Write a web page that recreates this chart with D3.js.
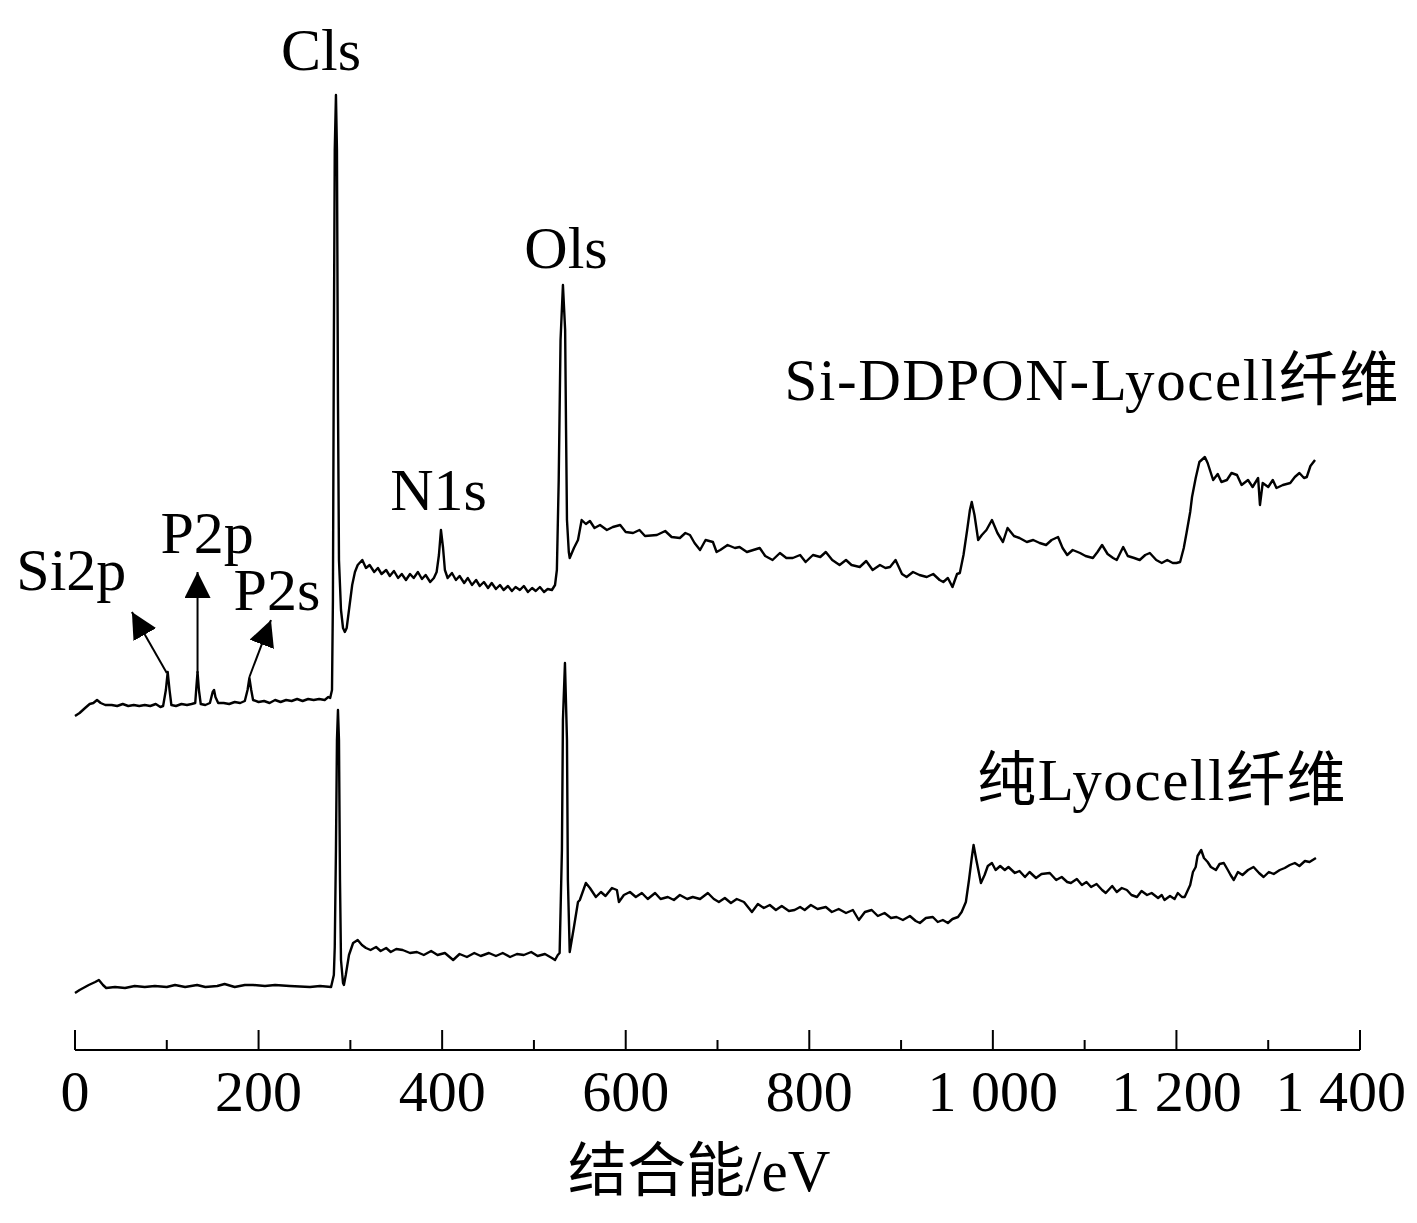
<!DOCTYPE html>
<html><head><meta charset="utf-8">
<script src="https://cdn.jsdelivr.net/npm/d3@7"></script>
<style>
html,body{margin:0;padding:0;background:#fff;}
svg text{font-family:"Liberation Serif","Times New Roman","Noto Sans CJK SC",serif;fill:#000;}
</style></head>
<body><div id="chart"></div>
<script>
// Binding energy (eV), intensity (a.u., offset-stacked)
const siDDPON = [[0,334],[5,337],[11,342],[16,346],[20,347],[24,350],[28,347],[33,345],[40,345],[46,344],[52,346],[58,344],[64,345],[70,344],[76,345],[82,344],[88,346],[93,343],[96,344],[99,360],[101,378],[103,360],[105,345],[110,344],[116,346],[122,345],[127,346],[131,347],[132,360],[133.5,378],[135,360],[137,346],[142,345],[147,347],[150,358],[151.5,360],[153,353],[156,347],[162,347],[168,346],[174,348],[180,347],[185,349],[188,360],[190,372],[192,360],[194,350],[200,348],[206,349],[212,347],[218,350],[224,348],[230,350],[236,349],[242,351],[248,349],[254,351],[260,350],[266,351],[272,350],[276,353],[278,352],[280,360],[281,450],[282,700],[283,900],[284.3,955],[285.4,900],[286.5,650],[287.6,490],[289.8,440],[292,422],[294,418],[296,422],[298.5,440],[302,465],[305,478],[308,485],[313,490],[317,482],[321,485],[326,478],[330,482],[334,476],[339,480],[343,474],[347.5,479],[352,472],[356,476],[360.6,470],[365,476],[369,472],[373.6,478],[378,471],[382,475],[387,468],[391,472],[394,478],[396.5,495],[398.7,520],[401,502],[403,480],[406,472],[410.7,477],[415,470],[419,474],[424,467],[428,472],[432.5,465],[437,470],[441,464],[445.5,468],[450,462],[454,467],[458.6,461],[463,465],[467,460],[471.7,464],[476,459],[480,463],[484.7,460],[489,464],[493.5,458],[498,462],[502,459],[506.5,463],[511,458],[515,461],[519.6,460],[523,465],[525,480],[527,570],[529,710],[531.6,765],[534,720],[535,620],[536,530],[538,498],[539,492],[543.6,502],[548,510],[552,530],[556.6,526],[561,529],[566,522],[572,525],[579.5,520],[586,523],[594,525],[600,518],[608,517],[615,520],[621,514],[634,515],[643,519],[650,513],[659,512],[665,517],[670,515],[675,507],[681,500],[687,510],[695,508],[699,498],[703,500],[711,505],[719,502],[724,503],[732,498],[739,500],[746,502],[752,494],[760,490],[768,497],[775,492],[782,492],[790,495],[796,488],[804,495],[812,493],[818,498],[825,490],[833,485],[840,490],[846,485],[855,483],[862,489],[869,480],[877,485],[883,482],[888,483],[894,490],[901,476],[906,473],[913,478],[920,475],[928,473],[935,476],[942,470],[946,468],[951,472],[956,463],[961,476],[964,477],[968,495],[972,520],[975,540],[977,548],[980,535],[984,510],[988,515],[993,520],[999,530],[1005,517],[1011,508],[1016,522],[1023,514],[1029,512],[1037,508],[1044,510],[1051,507],[1058,505],[1064,510],[1071,513],[1076,502],[1081,495],[1087,500],[1095,497],[1101,494],[1109,492],[1114,498],[1119,505],[1125,496],[1131,492],[1135,490],[1142,503],[1147,494],[1154,492],[1160,490],[1166,495],[1171,497],[1178,490],[1184,487],[1190,490],[1196,487],[1200,487],[1204,488],[1208,502],[1211,517],[1215,538],[1217,553],[1221,572],[1225,588],[1231,593],[1234,587],[1240,570],[1245,576],[1249,568],[1255,570],[1260,577],[1266,575],[1271,565],[1278,570],[1283,563],[1289,572],[1291,545],[1294,567],[1300,563],[1305,570],[1309,562],[1316,565],[1324,567],[1329,573],[1334,577],[1339,572],[1342,573],[1346,584],[1351,590]];

const pureLyocell = [[0,57],[5,60],[15,65],[22,68],[26,70],[30.5,65],[34,62],[43.6,63],[54.5,62],[65,64],[76,63],[87,64],[100,63],[109,65],[120,63],[133,65],[142,63],[155,64],[163,66],[174,63],[185,65],[194,65],[207,64],[218,65],[234,64],[256,63],[267,64],[279,63],[282,75],[283,103],[284.3,200],[285.4,310],[286.5,340],[287.6,310],[288.7,170],[289.8,90],[292,67],[293,65],[295,75],[298.5,95],[303,107],[308,110],[312.6,105],[317,102],[322,100],[328,103],[333,99],[339,102],[344,98],[350,101],[357,100],[365,97],[372.5,98],[380,95],[388,99],[395,95],[403,97],[412,90],[419,96],[427,93],[435,97],[442,94],[451,97],[458.6,94],[466,97],[474,93],[481.5,96],[489,95],[497,98],[504,94],[512,96],[519.6,92],[523,90],[526,95],[528,97],[530.5,200],[531.6,330],[533.8,387],[536,310],[537,170],[539,98],[543.6,123],[548,148],[550,150],[556.6,167],[561,162],[567.5,153],[573,158],[578,154],[585,162],[590.4,160],[592.6,148],[598,155],[604.6,158],[611,153],[617.6,157],[624,151],[632,157],[638,151],[645.9,153],[652.5,150],[659,155],[667,151],[673,153],[681,151],[689.5,157],[696,151],[701.5,148],[708,152],[714.6,147],[721,151],[728.8,148],[737.5,138],[744,146],[750.5,142],[757,145],[763.6,140],[770,144],[777.8,139],[784,140],[790,143],[795,140],[801.7,145],[809,141],[818,143],[824.6,138],[832,141],[840,137],[847.5,140],[854,130],[860.6,138],[868,140],[874.7,134],[882,137],[889,132],[895,133],[902,130],[909.6,134],[916,129],[920.5,127],[927,132],[934.6,133],[940,128],[945.5,130],[951,127],[956,131],[962,133],[966,138],[970.6,148],[974,170],[977,192],[979,205],[982,190],[987,167],[991,175],[994.5,184],[999,187],[1003,180],[1008,184],[1013,180],[1017,183],[1024,177],[1029,179],[1035,173],[1040,178],[1047,172],[1053,176],[1062,177],[1069,170],[1075,173],[1081,168],[1085,167],[1091.5,171],[1097,165],[1102,168],[1107,163],[1113,166],[1119,160],[1123,157],[1130,164],[1135,158],[1140.5,162],[1146,160],[1151,155],[1157,153],[1162,159],[1168,155],[1173,157],[1180,152],[1184,155],[1187,150],[1193,154],[1198,151],[1201.5,157],[1206,153],[1209,153],[1215,165],[1218,178],[1221,183],[1223,194],[1227,200],[1230,192],[1234,188],[1237.5,183],[1243,180],[1247,186],[1251.6,187],[1256,180],[1259,175],[1262.5,170],[1267,178],[1272,175],[1278,180],[1284,183],[1290,177],[1295,173],[1300.7,178],[1306,176],[1312.6,180],[1318,182],[1323.5,185],[1329,187],[1334,184],[1340,189],[1345,188],[1352,192]];

const xTicksMajor = [0,200,400,600,800,1000,1200,1400];
const xTicksMinor = [100,300,500,700,900,1100,1300];
const xTickLabels = ["0","200","400","600","800","1 000","1 200","1 400"];
const xAxisTitle = "结合能/eV";

// peak labels: [text, energy, intensity at label baseline]
const peakLabels = [["Cls",268,980],["Ols",535,782],["N1s",396,540],["Si2p",-4,460],["P2p",144,497],["P2s",220,440]];
// arrows: [from energy, from intensity, to energy, to intensity]
const arrows = [[100,377,62,438],[133.5,377,133.5,478],[190,373,213.5,430]];
// series labels: [text, energy (start), intensity (baseline)]
const seriesLabels = [["Si-DDPON-Lyocell纤维",773,650],["纯Lyocell纤维",983,250]];

const W = 1417, H = 1223;
const svg = d3.select("#chart").append("svg").attr("width",W).attr("height",H);
const x = d3.scaleLinear().domain([0,1400]).range([75,1360]);
const y = d3.scaleLinear().domain([0,1000]).range([1050,50]);
const axisY = y(0);

// axis
const ax = svg.append("g");
ax.append("line").attr("x1",x(0)).attr("x2",x(1400)).attr("y1",axisY).attr("y2",axisY)
  .attr("stroke","#000").attr("stroke-width",2.2);
ax.selectAll(".maj").data(xTicksMajor).enter().append("line")
  .attr("x1",d=>x(d)).attr("x2",d=>x(d)).attr("y1",axisY).attr("y2",axisY-20)
  .attr("stroke","#000").attr("stroke-width",2);
ax.selectAll(".min").data(xTicksMinor).enter().append("line")
  .attr("x1",d=>x(d)).attr("x2",d=>x(d)).attr("y1",axisY).attr("y2",axisY-10)
  .attr("stroke","#000").attr("stroke-width",2);
ax.selectAll(".lab").data(xTicksMajor).enter().append("text")
  .attr("x",(d,i)=> i===xTicksMajor.length-1 ? x(d)+46 : x(d))
  .attr("y",axisY+61)
  .attr("text-anchor",(d,i)=> i===xTicksMajor.length-1 ? "end" : "middle")
  .attr("font-size",58).text((d,i)=>xTickLabels[i]);
svg.append("text").attr("x",x(680)).attr("y",axisY+141).attr("text-anchor","middle")
  .attr("font-size",59).text(xAxisTitle);

// spectra
const line = d3.line().x(d=>x(d[0])).y(d=>y(d[1]));
[siDDPON, pureLyocell].forEach(s=>{
  svg.append("path").datum(s).attr("d",line).attr("fill","none")
    .attr("stroke","#000").attr("stroke-width",2.4).attr("stroke-linejoin","round");
});

// arrows
svg.append("defs").append("marker").attr("id","ah").attr("viewBox","0 0 10 10")
  .attr("refX",10).attr("refY",5).attr("markerWidth",26).attr("markerHeight",26)
  .attr("markerUnits","userSpaceOnUse").attr("orient","auto")
  .append("path").attr("d","M0,0 L10,5 L0,10 Z").attr("fill","#000");
svg.selectAll(".arr").data(arrows).enter().append("line")
  .attr("x1",d=>x(d[0])).attr("y1",d=>y(d[1])).attr("x2",d=>x(d[2])).attr("y2",d=>y(d[3]))
  .attr("stroke","#000").attr("stroke-width",2).attr("marker-end","url(#ah)");

// labels
svg.selectAll(".pl").data(peakLabels).enter().append("text")
  .attr("x",d=>x(d[1])).attr("y",d=>y(d[2])).attr("text-anchor","middle")
  .attr("font-size",60).text(d=>d[0]);
svg.selectAll(".sl").data(seriesLabels).enter().append("text")
  .attr("x",d=>x(d[1])).attr("y",d=>y(d[2]))
  .attr("font-size",59).attr("letter-spacing",1.6).text(d=>d[0]);
</script></body></html>
